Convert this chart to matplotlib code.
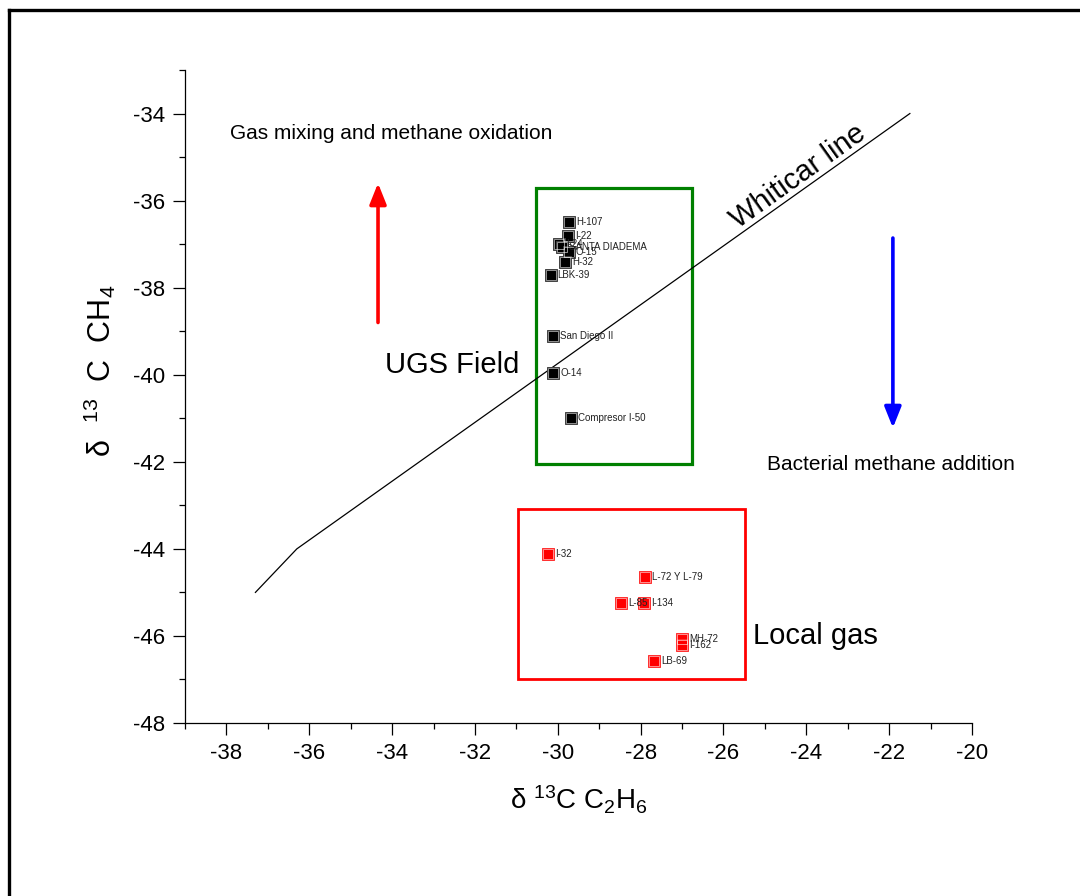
import matplotlib
matplotlib.use('Agg')
import matplotlib.pyplot as plt
from matplotlib.lines import Line2D
from matplotlib.patches import Rectangle

plt.rcParams['font.family'] = ['Liberation Sans', 'DejaVu Sans']
plt.rcParams['mathtext.fontset'] = 'custom'
plt.rcParams['mathtext.rm'] = 'Liberation Sans'
plt.rcParams['mathtext.default'] = 'regular'
plt.rcParams['axes.unicode_minus'] = False

# UGS field samples (d13C C2H6, d13C CH4)
ugs_names = ['H-107', 'I-22', 'I-24', 'SANTA DIADEMA', 'O-15', 'H-32', 'LBK-39',
             'San Diego II', 'O-14', 'Compresor I-50']
ugs_x = [-29.72, -29.75, -29.97, -29.90, -29.74, -29.83, -30.17, -30.11, -30.11, -29.67]
ugs_y = [-36.50, -36.82, -37.00, -37.06, -37.17, -37.40, -37.71, -39.10, -39.95, -40.99]

# local gas samples
loc_names = ['I-32', 'L-72 Y L-79', 'L-85', 'I-134', 'MH-72', 'I-162', 'LB-69']
loc_x = [-30.23, -27.89, -28.47, -27.92, -26.99, -26.99, -27.67]
loc_y = [-44.12, -44.64, -45.24, -45.24, -46.06, -46.21, -46.58]

# Whiticar line
wl_x = [-37.3, -36.3, -21.5]
wl_y = [-45.0, -44.0, -34.0]

fig = plt.figure(figsize=(10.8, 8.96), dpi=100)
ax = fig.add_axes([185 / 1080, 1 - 723 / 896, 787 / 1080, 653 / 896])

# page frame (left and top)
fig.add_artist(Line2D([9 / 1080, 9 / 1080], [0, 1 - 10 / 896], transform=fig.transFigure,
                      color='black', lw=2.4))
fig.add_artist(Line2D([9 / 1080, 1], [1 - 10 / 896, 1 - 10 / 896], transform=fig.transFigure,
                      color='black', lw=2.4))

ax.plot(wl_x, wl_y, color='black', lw=0.9)


def draw_points(xs, ys, names, col, edge):
    ax.plot(xs, ys, 's', ms=8.8, mfc=col, mec=edge, mew=0.7, ls='none', zorder=4)
    ax.plot(xs, ys, 's', ms=7.6, mfc='none', mec='white', mew=0.4, ls='none', zorder=5)
    for x, y, n in zip(xs, ys, names):
        ax.annotate(n, (x, y), xytext=(5, 0), textcoords='offset points',
                    fontsize=7, va='center', ha='left', color='#222222', zorder=6)


draw_points(ugs_x, ugs_y, ugs_names, 'black', '#444444')
draw_points(loc_x, loc_y, loc_names, '#ff0000', '#ff3030')

ax.add_patch(Rectangle((-30.53, -42.05), 3.77, 6.34, fill=False, ec='#008000', lw=2.3))
ax.add_patch(Rectangle((-30.96, -46.99), 5.48, 3.9, fill=False, ec='#ff0000', lw=2.0))

ax.annotate('', xy=(-34.34, -35.6), xytext=(-34.34, -38.8),
            arrowprops=dict(arrowstyle='-|>,head_length=0.7,head_width=0.28',
                            color='#ff0000', lw=2.6, mutation_scale=18, shrinkA=0, shrinkB=0))
ax.annotate('', xy=(-21.91, -41.22), xytext=(-21.91, -36.86),
            arrowprops=dict(arrowstyle='-|>,head_length=0.7,head_width=0.28',
                            color='#0000ff', lw=2.6, mutation_scale=18, shrinkA=0, shrinkB=0))

ax.text(-37.91, -34.45, 'Gas mixing and methane oxidation', fontsize=15, va='center', ha='left')
ax.text(-24.95, -42.07, 'Bacterial methane addition', fontsize=15, va='center', ha='left')
ax.text(-34.17, -39.78, 'UGS Field', fontsize=21, va='center', ha='left')
ax.text(-25.29, -46.0, 'Local gas', fontsize=21, va='center', ha='left')
ax.text(-24.2, -35.45, 'Whiticar line', fontsize=21, va='center', ha='center',
        rotation=35.4, rotation_mode='anchor')

ax.set_xlim(-39, -20)
ax.set_ylim(-48, -33)
ax.set_xticks(range(-38, -19, 2))
ax.set_xticks(range(-39, -19, 1), minor=True)
ax.set_yticks(range(-48, -33, 2))
ax.set_yticks(range(-47, -32, 2), minor=True)
ax.spines['top'].set_visible(False)
ax.spines['right'].set_visible(False)
for s in ['left', 'bottom']:
    ax.spines[s].set_linewidth(0.9)
ax.tick_params(which='major', direction='out', length=8.5, width=0.9, labelsize=16, pad=6)
ax.tick_params(which='minor', direction='out', length=4.5, width=0.9)

ax.set_xlabel(r'δ $^{13}$C C$_{2}$H$_{6}$', fontsize=20, labelpad=14)
ax.set_ylabel(r'δ  $^{13}$  C  CH$_{4}$', fontsize=22)
ax.yaxis.set_label_coords(-0.085, 0.54)

fig.savefig('out.png', dpi=100)
